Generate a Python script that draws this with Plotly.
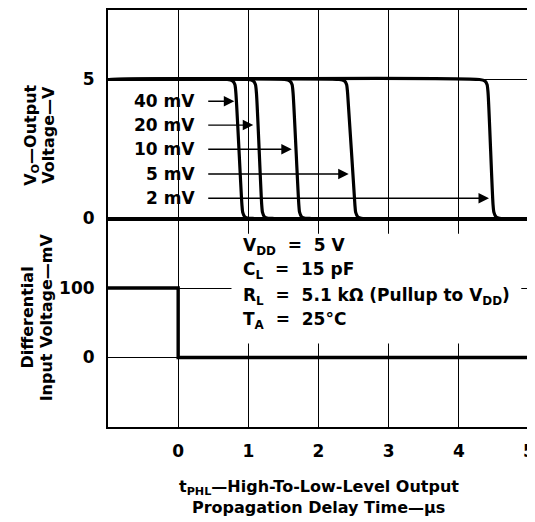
import plotly.graph_objects as go
from plotly.subplots import make_subplots

# ---- data ----
curve_labels = ["40 mV", "20 mV", "10 mV", "5 mV", "2 mV"]
t_40mv = [-1, 0.70, 0.775, 0.808, 0.823, 0.908, 0.92, 0.95, 1.00, 1.09, 5]
t_20mv = [-1, 0.995, 1.07, 1.101, 1.116, 1.19, 1.202, 1.23, 1.28, 1.37, 5]
t_10mv = [-1, 1.52, 1.59, 1.623, 1.638, 1.719, 1.731, 1.76, 1.81, 1.90, 5]
t_5mv = [-1, 2.295, 2.37, 2.40, 2.415, 2.518, 2.53, 2.56, 2.61, 2.70, 5]
t_2mv = [-1, 4.295, 4.37, 4.402, 4.417, 4.487, 4.50, 4.53, 4.58, 4.67, 5]
vout = [5, 5, 4.95, 4.82, 4.5, 0.52, 0.22, 0.06, 0.01, 0, 0]

# arrow pointers (output voltage level, time where they touch each curve)
arrow_v = [4.22, 3.36, 2.49, 1.60, 0.73]
arrow_t = [0.80, 1.07, 1.62, 2.43, 4.43]
arrow_start_t = 0.40
label_t = 0.27

# differential input step
t_in = [-1, 0, 0, 5]
v_in = [100, 100, 0, 0]

x_ticks = [0, 1, 2, 3, 4, 5]
x_grid = [-1, 0, 1, 2, 3, 4, 5]
vo_ticks = [0, 5]
vin_ticks = [0, 100]

cond_lines = [
    "V<sub>DD</sub>  =  5 V",
    "C<sub>L</sub>  =  15 pF",
    "R<sub>L</sub>  =  5.1 kΩ (Pullup to V<sub>DD</sub>)",
    "T<sub>A</sub>  =  25°C",
]
cond_y = [160, 125, 88, 53]

FONT = "DejaVu Sans"

fig = make_subplots(rows=2, cols=1, shared_xaxes=True, vertical_spacing=0)

for tt in [t_40mv, t_20mv, t_10mv, t_5mv, t_2mv]:
    fig.add_trace(go.Scatter(x=tt, y=vout, mode="lines",
                             line=dict(color="black", width=3.2, shape="spline", smoothing=0.7),
                             hoverinfo="skip", showlegend=False), row=1, col=1)

fig.add_trace(go.Scatter(x=t_in, y=v_in, mode="lines",
                         line=dict(color="black", width=3.4),
                         hoverinfo="skip", showlegend=False), row=2, col=1)

axis_common = dict(showline=True, mirror=True, linewidth=2, linecolor="black",
                   showgrid=True, gridcolor="black", gridwidth=1.4,
                   zeroline=False, ticks="",
                   tickfont=dict(family=FONT, size=17, color="black", weight="bold"))

fig.update_xaxes(range=[-1, 5], tickvals=x_grid, **axis_common)
fig.update_xaxes(row=2, col=1, tickvals=x_grid,
                 ticktext=[" "] + [str(v) for v in x_ticks], ticklabelstandoff=8,
                 ticklabeloverflow="allow")
fig.update_xaxes(row=1, col=1, showticklabels=False)
fig.update_yaxes(row=1, col=1, range=[0, 7.5], tickvals=vo_ticks, ticklabelstandoff=8, **axis_common)
fig.update_yaxes(row=2, col=1, range=[-100, 200], tickvals=vin_ticks, ticklabelstandoff=8, **axis_common)

# white box behind conditions text (interrupts the grid as in the original)
fig.add_shape(type="rect", xref="x2", yref="y2", x0=0.76, x1=4.89, y0=20, y1=178,
              fillcolor="white", line=dict(width=0), layer="above")

ann = []
for lab, v, t in zip(curve_labels, arrow_v, arrow_t):
    ann.append(dict(x=t, y=v, xref="x", yref="y", ax=arrow_start_t, ay=v,
                    axref="x", ayref="y", text=" ", showarrow=True,
                    arrowhead=2, arrowsize=1.5, arrowwidth=1.4, arrowcolor="black",
                    font=dict(family=FONT, size=4, color="rgba(0,0,0,0)")))
    ann.append(dict(x=label_t, y=v, xref="x", yref="y", text="<b>%s</b>" % lab,
                    showarrow=False, xanchor="right", yanchor="middle",
                    font=dict(family=FONT, size=17, color="black")))

for txt, yy in zip(cond_lines, cond_y):
    ann.append(dict(x=0.89, y=yy, xref="x2", yref="y2", text="<b>%s</b>" % txt,
                    showarrow=False, xanchor="left", yanchor="middle",
                    font=dict(family=FONT, size=17, color="black")))

ytitles = [
    ("V<sub>O</sub>—Output", 30, 0.70),
    ("Voltage—V", 48, 0.70),
    ("Differential", 27, 0.262),
    ("Input Voltage—mV", 46, 0.262),
]
for txt, px, py in ytitles:
    ann.append(dict(x=(px - 108) / 425, y=py, xref="paper", yref="paper",
                    text="<b>%s</b>" % txt, textangle=-90, showarrow=False,
                    xanchor="center", yanchor="middle",
                    font=dict(family=FONT, size=16, color="black")))

xtitles = [
    ("t<sub>PHL</sub>—High-To-Low-Level Output", -0.146),
    ("Propagation Delay Time—μs", -0.192),
]
for txt, py in xtitles:
    ann.append(dict(x=0.5, y=py, xref="paper", yref="paper", text="<b>%s</b>" % txt,
                    showarrow=False, xanchor="center", yanchor="middle",
                    font=dict(family=FONT, size=16, color="black")))

# page body has an 8 px margin: figure starts at (8, 8) in the window
fig.update_layout(width=527, height=514, margin=dict(l=100, r=2, t=0, b=95),
                  paper_bgcolor="white", plot_bgcolor="white",
                  font=dict(family=FONT, color="black", size=16),
                  annotations=ann, showlegend=False)

fig.write_html("out.html")
